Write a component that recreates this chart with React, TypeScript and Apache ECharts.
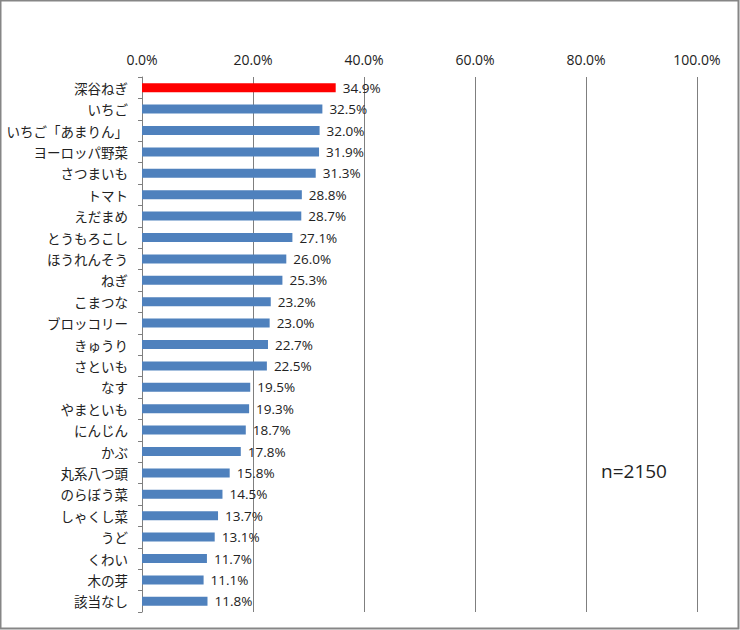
import React, { useEffect, useRef } from "react";
import * as echarts from "echarts";

const categories = [
  "深谷ねぎ", "いちご", "いちご「あまりん」", "ヨーロッパ野菜", "さつまいも", "トマト", "えだまめ",
  "とうもろこし", "ほうれんそう", "ねぎ", "こまつな", "ブロッコリー", "きゅうり", "さといも",
  "なす", "やまといも", "にんじん", "かぶ", "丸系八つ頭", "のらぼう菜", "しゃくし菜", "うど",
  "くわい", "木の芽", "該当なし",
];
const values = [
  34.9, 32.5, 32.0, 31.9, 31.3, 28.8, 28.7, 27.1, 26.0, 25.3, 23.2, 23.0, 22.7, 22.5,
  19.5, 19.3, 18.7, 17.8, 15.8, 14.5, 13.7, 13.1, 11.7, 11.1, 11.8,
];
const highlightIndex = 0;
const sampleNote = "n=2150";

export default function App() {
  const ref = useRef<HTMLDivElement>(null);
  useEffect(() => {
    document.body.style.margin = "0";
    const chart = echarts.init(ref.current!, null, { renderer: "svg" });
    chart.setOption({
      animation: false,
      backgroundColor: "#fff",
      grid: { left: 142, right: 43, top: 77, bottom: 18 },
      xAxis: {
        type: "value",
        position: "top",
        min: 0,
        max: 100,
        interval: 20,
        axisLine: { show: false },
        axisTick: { show: false },
        axisLabel: {
          formatter: (v: number) => v.toFixed(1) + "%",
          fontFamily: "Open Sans, Noto Sans, sans-serif",
          fontSize: 14,
          color: "#222",
          margin: 11,
        },
        splitLine: { show: true, lineStyle: { color: "#7f7f7f", width: 1 } },
      },
      yAxis: {
        type: "category",
        inverse: true,
        data: categories,
        axisLine: { show: true, lineStyle: { color: "#7f7f7f" } },
        axisTick: { show: true, length: 4, lineStyle: { color: "#7f7f7f" } },
        axisLabel: {
          fontFamily: "Noto Sans CJK JP, sans-serif",
          fontSize: 13.5,
          color: "#222",
          margin: 14,
        },
      },
      series: [
        {
          type: "bar",
          data: values.map((v, i) => ({
            value: v,
            itemStyle: { color: i === highlightIndex ? "#FF0000" : "#4F81BD" },
          })),
          barWidth: 9,
          label: {
            show: true,
            position: "right",
            distance: 7,
            formatter: (p: any) => Number(p.value).toFixed(1) + "%",
            fontFamily: "Open Sans, Noto Sans, sans-serif",
            fontSize: 13.5,
            color: "#222",
          },
        },
      ],
      graphic: [
        {
          type: "rect",
          shape: { x: 0.5, y: 0.5, width: 738, height: 628 },
          style: { fill: "none", stroke: "#868686", lineWidth: 2 },
          silent: true,
        },
        {
          type: "text",
          left: 601,
          top: 461,
          style: {
            text: sampleNote,
            fontFamily: "Open Sans, Noto Sans, sans-serif",
            fontSize: 19,
            fill: "#222",
          },
        },
      ],
    });
    return () => chart.dispose();
  }, []);
  return <div ref={ref} style={{ width: 740, height: 630 }} />;
}
